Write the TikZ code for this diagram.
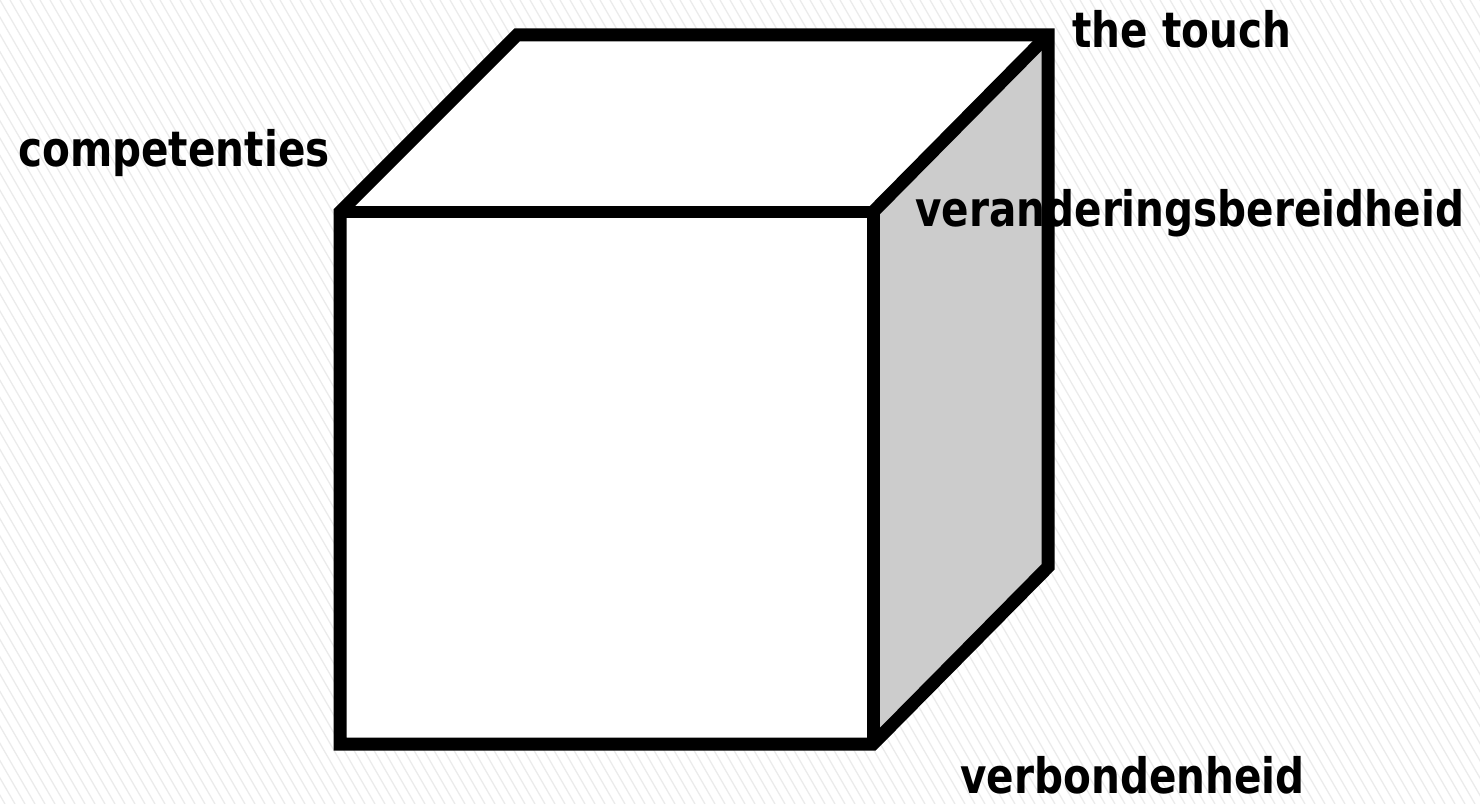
\documentclass[tikz,border=0pt]{standalone}
\usepackage{fontspec}
\setmainfont{DejaVu Sans}[FakeStretch=0.83]
\tikzset{
  edge/.style={line width=0.26cm, line join=miter, draw=black},
  lbl/.style={anchor=base west, inner sep=0pt, font=\fontsize{27.8}{32}\selectfont\bfseries},
  stripe/.style={line width=0.025cm, draw=black!8}
}
\begin{document}
\begin{tikzpicture}[x=0.02cm,y=-0.02cm]
\useasboundingbox (0,0) rectangle (1480,804);
\fill[white] (0,0) rectangle (1480,804);
\begin{scope}
\clip (0,0) rectangle (1480,804);
\foreach \i in {-52,...,150} {
  \draw[stripe] (\i*10,0) -- (\i*10+465,804);
}
\end{scope}
% cube corners
\coordinate (A) at (340,212);   % front top left
\coordinate (B) at (873,212);   % front top right
\coordinate (C) at (873,744);   % front bottom right
\coordinate (D) at (340,744);   % front bottom left
\coordinate (E) at (517,35);    % back top left
\coordinate (F) at (1048,35);   % back top right
\coordinate (G) at (1048,567);  % back bottom right
% fills
\fill[white] (A) -- (B) -- (C) -- (D) -- cycle;
\fill[white] (A) -- (E) -- (F) -- (B) -- cycle;
\fill[black!20] (B) -- (F) -- (G) -- (C) -- cycle;
% labels
\node[lbl] (touch) at (1072,48) {the touch};
\node[lbl] (comp) at (18,167) {competenties};
\node[lbl] (verand) at (915,227) {veranderingsbereidheid};
\node[lbl] (verb) at (960,793) {verbondenheid};
% edges
\draw[edge] (A) -- (E) -- (F) -- (G) -- (C) -- (D) -- cycle;
\draw[edge] (A) -- (B) -- (C);
\draw[edge] (B) -- (F);
\end{tikzpicture}
\end{document}
